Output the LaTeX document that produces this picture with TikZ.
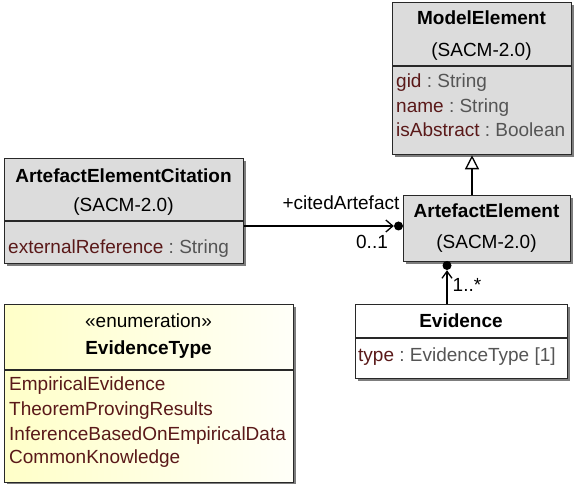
\documentclass[tikz,border=0pt]{standalone}
\usepackage{fontspec}
\setmainfont{Liberation Sans}
\usetikzlibrary{arrows.meta}
\definecolor{boxgray}{RGB}{220,220,220}
\definecolor{edge}{RGB}{40,40,40}
\definecolor{shadowc}{RGB}{125,125,125}
\definecolor{attrname}{RGB}{90,25,25}
\definecolor{attrtype}{RGB}{85,85,85}
\definecolor{enumtop}{RGB}{255,255,200}
\definecolor{enumbot}{RGB}{255,255,248}
\newcommand\umlrect[6]{%
  \fill[shadowc] ({#2+3},{#3+3}) rectangle ({#4+3},{#5+3});
  \node[umlbox,#6,minimum width={#4-#2},minimum height={#5-#3}] (#1) at (#2,#3) {};}
\newcommand\av[2]{\textcolor{attrname}{#1}\textcolor{attrtype}{\ :\ #2}}
\begin{document}
\begin{tikzpicture}[x=1pt,y=-1pt,
  umlbox/.style={draw=edge,line width=1.3pt,inner sep=0pt,anchor=north west},
  divider/.style={draw=edge,line width=1.3pt},
  txt/.style={inner sep=0pt,font=\fontsize{19}{22}\selectfont},
  ttl/.style={inner sep=0pt,font=\fontsize{19}{22}\selectfont\bfseries,anchor=base},
  sub/.style={txt,anchor=base},
  attr/.style={txt,anchor=base west},
  lbl/.style={txt,anchor=base},
  conn/.style={draw=black,line width=1.3pt},
  dotnode/.style={circle,fill=black,inner sep=0pt,minimum size=9pt}]
\useasboundingbox (0,0) rectangle (574,484);

% ModelElement
\umlrect{ME}{392}{2}{571}{154}{fill=boxgray}
\draw[divider] (392,66) -- (571,66);
\node[ttl] (MEt) at (481.5,25) {ModelElement};
\node[sub] (MEs) at (481.5,57) {(SACM-2.0)};
\node[attr] (MEa1) at (396,88) {\av{gid}{String}};
\node[attr] (MEa2) at (396,113) {\av{name}{String}};
\node[attr] (MEa3) at (396,137) {\av{isAbstract}{Boolean}};

% ArtefactElementCitation
\umlrect{AEC}{4}{158}{243}{263}{fill=boxgray}
\draw[divider] (4,221) -- (243,221);
\node[ttl] (AECt) at (123.5,183) {ArtefactElementCitation};
\node[sub] (AECs) at (123.5,212) {(SACM-2.0)};
\node[attr] (AECa1) at (8,254) {\av{externalReference}{String}};

% ArtefactElement
\umlrect{AE}{403}{195}{570}{261}{fill=boxgray}
\node[ttl] (AEt) at (486.5,218) {ArtefactElement};
\node[sub] (AEs) at (486.5,249) {(SACM-2.0)};

% Evidence
\umlrect{EV}{355}{304}{567}{378}{fill=white}
\draw[divider] (355,338) -- (567,338);
\node[ttl] (EVt) at (461,327) {Evidence};
\node[attr] (EVa1) at (358,362) {\av{type}{EvidenceType [1]}};

% EvidenceType
\umlrect{ET}{4}{304}{293}{482}{left color=enumtop,right color=enumbot}
\draw[divider] (4,370) -- (293,370);
\node[sub] (ETst) at (148.5,327) {«enumeration»};
\node[ttl] (ETt) at (148.5,355) {EvidenceType};
\node[attr,text=attrname] (ETl1) at (9,391) {EmpiricalEvidence};
\node[attr,text=attrname] (ETl2) at (9,415) {TheoremProvingResults};
\node[attr,text=attrname] (ETl3) at (9,440) {InferenceBasedOnEmpiricalData};
\node[attr,text=attrname] (ETl4) at (9,463) {CommonKnowledge};

% generalization
\coordinate (gx) at (472,0);
\draw[conn,-{Triangle[open,length=14pt,width=14pt,fill=white]}] (AE.north -| gx) -- (ME.south -| gx);

% association AEC -> AE
\node[dotnode] (d1) at (398.5,226) {};
\draw[conn,-{Straight Barb[length=7pt,width=12pt]}] (AEC.east |- d1) -- (d1.west);
\node[lbl] (l1) at (341,210) {+citedArtefact};
\node[lbl] (l2) at (372,249) {0..1};

% association EV -> AE
\node[dotnode] (d2) at (447,265.5) {};
\draw[conn,-{Straight Barb[length=7pt,width=10pt]}] (EV.north -| d2) -- (d2.south);
\node[lbl] (l3) at (467,292) {1..*};
\end{tikzpicture}
\end{document}
